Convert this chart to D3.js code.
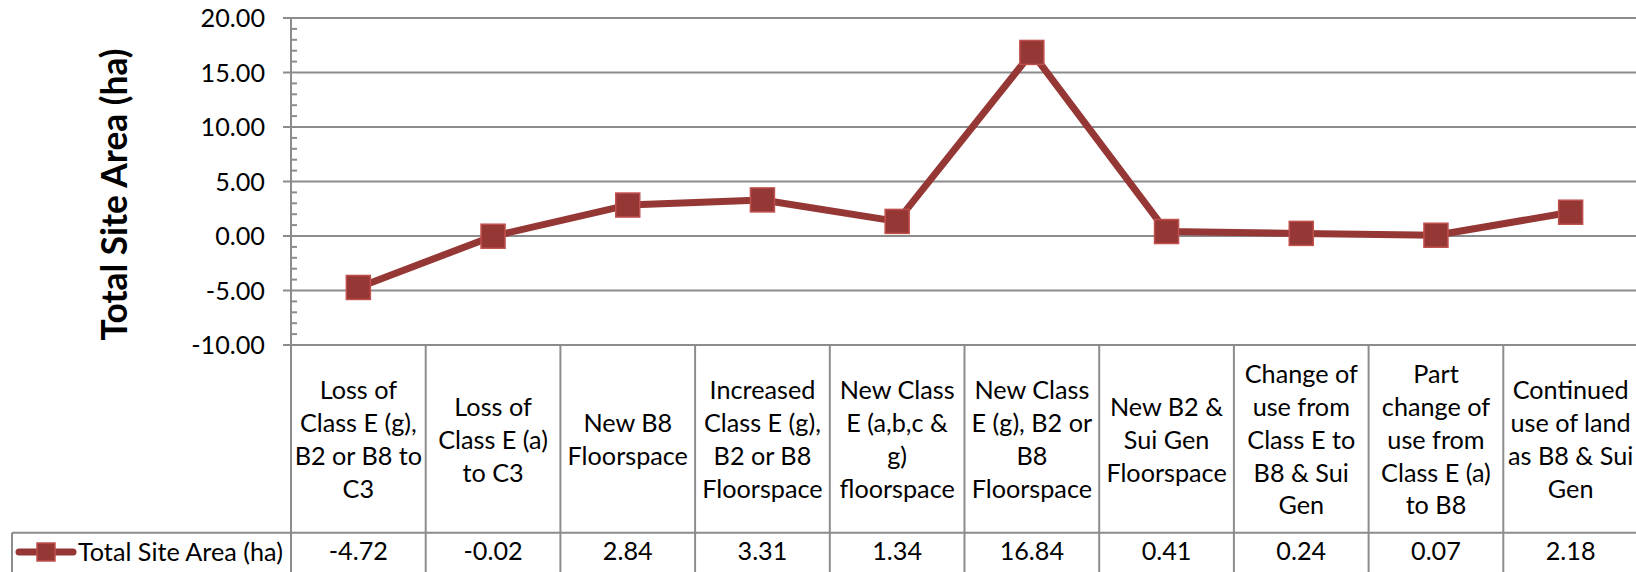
<!DOCTYPE html>
<html>
<head>
<meta charset="utf-8">
<script src="https://cdn.jsdelivr.net/npm/d3@7"></script>
<style>
  html, body { margin: 0; padding: 0; background: #ffffff; overflow: hidden; }
  svg { display: block; }
</style>
</head>
<body>
<svg id="chart" width="1636" height="572"></svg>
<script>
// ---- data ----
const categories = [
  "Loss of\nClass E (g),\nB2 or B8 to\nC3",
  "Loss of\nClass E (a)\nto C3",
  "New B8\nFloorspace",
  "Increased\nClass E (g),\nB2 or B8\nFloorspace",
  "New Class\nE (a,b,c &\ng)\nfloorspace",
  "New Class\nE (g), B2 or\nB8\nFloorspace",
  "New B2 &\nSui Gen\nFloorspace",
  "Change of\nuse from\nClass E to\nB8 & Sui\nGen",
  "Part\nchange of\nuse from\nClass E (a)\nto B8",
  "Continued\nuse of land\nas B8 & Sui\nGen"
];
const values = [-4.72, -0.02, 2.84, 3.31, 1.34, 16.84, 0.41, 0.24, 0.07, 2.18];
const yTicks = [-10, -5, 0, 5, 10, 15, 20];
const seriesName = "Total Site Area (ha)";
const yTitle = "Total Site Area (ha)";

// ---- layout ----
const W = 1636, H = 572;
const plotLeft = 291, plotRight = 1638, plotTop = 18, plotBottom = 345;
const tableRowY = 532.7, legendLeft = 12;
const gridColor = "#8c8c8c";
const lineColor = "#953735";
const markerStroke = "#c0504d";
const fontFam = "Lato, 'Open Sans', sans-serif";

const svg = d3.select("#chart");

function fit(weight, sample, target) {
  const t = svg.append("text").attr("font-family", fontFam)
    .attr("font-weight", weight).attr("font-size", 100).text(sample);
  const w = t.node().getComputedTextLength();
  t.remove();
  return 100 * target / w;
}
const bodySize = fit(400, "Total Site Area (ha)", 205);
const titleSize = fit(700, "Total Site Area (ha)", 292);

const x = d3.scaleBand().domain(categories).range([plotLeft, plotRight]).padding(0);
const y = d3.scaleLinear().domain([-10, 20]).range([plotBottom, plotTop]);
const fmt = d => d.toFixed(2);

// gridlines
svg.append("g").selectAll("line").data(yTicks).join("line")
  .attr("x1", plotLeft - 8).attr("x2", W)
  .attr("y1", d => y(d)).attr("y2", d => y(d))
  .attr("stroke", gridColor).attr("stroke-width", 2);

// minor ticks
const minor = d3.range(-10, 20, 1).filter(d => d % 5 !== 0);
svg.append("g").selectAll("line").data(minor).join("line")
  .attr("x1", plotLeft).attr("x2", plotLeft + 6)
  .attr("y1", d => y(d)).attr("y2", d => y(d))
  .attr("stroke", gridColor).attr("stroke-width", 2);

// y axis via d3 axis
const yAxis = d3.axisLeft(y).tickValues(yTicks).tickFormat(fmt).tickSize(0).tickPadding(0);
const gy = svg.append("g").attr("transform", `translate(${plotLeft - 26},0)`).call(yAxis);
gy.select(".domain").remove();
gy.selectAll("text").attr("font-family", fontFam).attr("font-size", bodySize)
  .attr("fill", "#000").attr("dy", "0.35em").attr("x", 0);

// y axis line (extends through the table)
svg.append("line").attr("x1", plotLeft).attr("x2", plotLeft)
  .attr("y1", plotTop).attr("y2", H)
  .attr("stroke", gridColor).attr("stroke-width", 2);

// table vertical lines
const bounds = categories.map(c => x(c) + x.bandwidth());
svg.append("g").selectAll("line").data(bounds).join("line")
  .attr("x1", d => d).attr("x2", d => d)
  .attr("y1", plotBottom).attr("y2", H)
  .attr("stroke", gridColor).attr("stroke-width", 2);

// table row line + legend cell border
svg.append("line").attr("x1", legendLeft).attr("x2", W)
  .attr("y1", tableRowY).attr("y2", tableRowY)
  .attr("stroke", gridColor).attr("stroke-width", 2);
svg.append("line").attr("x1", legendLeft).attr("x2", legendLeft)
  .attr("y1", tableRowY).attr("y2", H)
  .attr("stroke", gridColor).attr("stroke-width", 2);

// category labels
const catMid = (plotBottom + tableRowY) / 2 + 1;
const lineH = 32.9;
const cl = svg.append("g").selectAll("text").data(categories).join("text")
  .attr("font-family", fontFam).attr("font-size", bodySize)
  .attr("text-anchor", "middle").attr("fill", "#000");
cl.each(function(c) {
  const lines = c.split("\n");
  const n = lines.length;
  d3.select(this).selectAll("tspan").data(lines).join("tspan")
    .attr("x", x(c) + x.bandwidth() / 2)
    .attr("y", (d, i) => catMid + (i - (n - 1) / 2) * lineH)
    .attr("dy", "0.35em")
    .text(d => d);
});

// data values row
svg.append("g").selectAll("text").data(values).join("text")
  .attr("x", (d, i) => x(categories[i]) + x.bandwidth() / 2)
  .attr("y", 551).attr("dy", "0.35em")
  .attr("text-anchor", "middle")
  .attr("font-family", fontFam).attr("font-size", bodySize).attr("fill", "#000")
  .text(fmt);

// legend
svg.append("line").attr("x1", 19).attr("x2", 73).attr("y1", 552).attr("y2", 552)
  .attr("stroke", lineColor).attr("stroke-width", 7).attr("stroke-linecap", "round");
svg.append("rect").attr("x", 37).attr("y", 543).attr("width", 18).attr("height", 18)
  .attr("fill", lineColor).attr("stroke", markerStroke).attr("stroke-width", 1.5);
svg.append("text").attr("x", 78).attr("y", 552).attr("dy", "0.35em")
  .attr("font-family", fontFam).attr("font-size", bodySize).attr("fill", "#000")
  .text(seriesName);

// series line
const pts = values.map((v, i) => [x(categories[i]) + x.bandwidth() / 2, y(v)]);
svg.append("path").datum(pts)
  .attr("d", d3.line())
  .attr("fill", "none").attr("stroke", lineColor).attr("stroke-width", 7)
  .attr("stroke-linejoin", "round");

// markers
const ms = 24;
svg.append("g").selectAll("rect").data(pts).join("rect")
  .attr("x", d => d[0] - ms / 2).attr("y", d => d[1] - ms / 2)
  .attr("width", ms).attr("height", ms)
  .attr("fill", lineColor).attr("stroke", markerStroke).attr("stroke-width", 1.5);

// y axis title
svg.append("text")
  .attr("transform", `translate(127,${(plotTop + plotBottom) / 2 + 13}) rotate(-90)`)
  .attr("text-anchor", "middle")
  .attr("font-family", fontFam).attr("font-weight", 700).attr("font-size", titleSize)
  .attr("fill", "#000")
  .text(yTitle);
</script>
</body>
</html>
